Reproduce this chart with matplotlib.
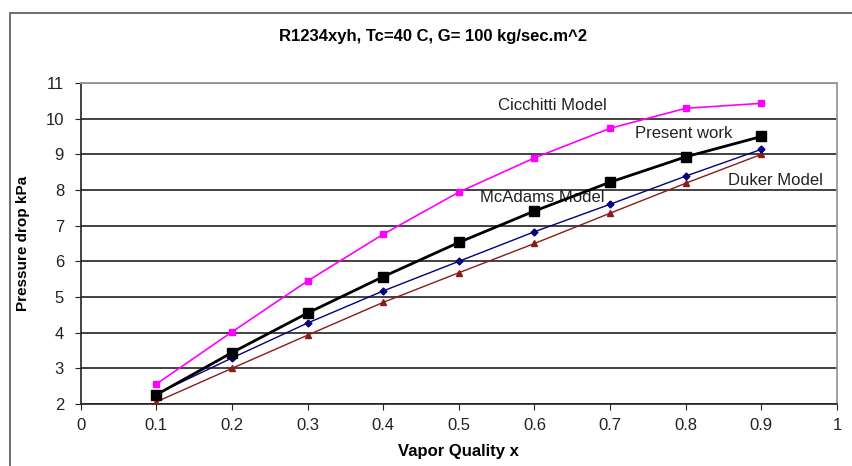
from matplotlib import pyplot as plt
from matplotlib.patches import Rectangle
from matplotlib import rcParams

rcParams['font.family'] = ['Liberation Sans', 'DejaVu Sans']
rcParams['font.size'] = 12

quality = [0.1, 0.2, 0.3, 0.4, 0.5, 0.6, 0.7, 0.8, 0.9]
cicchitti = [2.56, 4.02, 5.45, 6.76, 7.94, 8.90, 9.73, 10.29, 10.43]
present = [2.26, 3.44, 4.55, 5.57, 6.53, 7.41, 8.22, 8.93, 9.50]
mcadams = [2.28, 3.29, 4.27, 5.17, 6.00, 6.83, 7.60, 8.39, 9.14]
duker = [2.06, 3.00, 3.93, 4.85, 5.68, 6.50, 7.35, 8.19, 9.00]

fig = plt.figure(figsize=(8.52, 4.66), dpi=100)
# outer chart frame (runs off the right and bottom of the picture)
fig.patches.append(Rectangle((10 / 852, -0.05), 1.0, 1 - 13 / 466 + 0.05,
                             transform=fig.transFigure, fill=False,
                             ec='#555555', lw=1.2))

ax = fig.add_axes([80.7 / 852, 1 - 404 / 466, (837 - 80.7) / 852, (404 - 83) / 466])

ax.plot(quality, cicchitti, color='#ff00ff', lw=1.2, marker='s', ms=5, zorder=3)
ax.plot(quality, duker, color='#8b1a1a', lw=1.0, marker='^', ms=5, zorder=3)
ax.plot(quality, mcadams, color='#000080', lw=1.0, marker='D', ms=3.5, zorder=4)
ax.plot(quality, present, color='black', lw=2.0, marker='s', ms=7.5, zorder=5)

ax.set_xlim(0, 1)
ax.set_ylim(2, 11)
ax.set_xticks([0, 0.1, 0.2, 0.3, 0.4, 0.5, 0.6, 0.7, 0.8, 0.9, 1])
ax.set_xticklabels(['0', '0.1', '0.2', '0.3', '0.4', '0.5', '0.6', '0.7', '0.8', '0.9', '1'])
ax.set_yticks(range(2, 12))
ax.tick_params(direction='out', length=4, colors='#222222', labelsize=12)
ax.tick_params(axis='x', pad=6)
ax.tick_params(axis='y', pad=8)
ax.yaxis.grid(True, color='#333333', lw=1.3)
ax.set_axisbelow(True)
for s in ['top', 'right']:
    ax.spines[s].set_color('#999999')
    ax.spines[s].set_linewidth(1.3)
for s in ['left', 'bottom']:
    ax.spines[s].set_color('#222222')
    ax.spines[s].set_linewidth(1.2)

ax.text(0.552, 10.38, 'Cicchitti Model', fontsize=12, va='center', color='#222222')
ax.text(0.733, 9.59, 'Present work', fontsize=12, va='center', color='#222222')
ax.text(0.856, 8.27, 'Duker Model', fontsize=12, va='center', color='#222222')
ax.text(0.528, 7.80, 'McAdams Model', fontsize=12, va='center', color='#222222')

fig.text(433 / 852, 1 - 37 / 466, 'R1234xyh, Tc=40 C, G= 100 kg/sec.m^2',
         ha='center', va='center', fontsize=12, fontweight='bold')
ax.set_xlabel('Vapor Quality x', fontsize=12, fontweight='bold', labelpad=8)
fig.text(23 / 852, 1 - 243 / 466, 'Pressure drop kPa', rotation=90,
         ha='center', va='center', fontsize=11, fontweight='bold')

plt.savefig('out.png', dpi=100)
